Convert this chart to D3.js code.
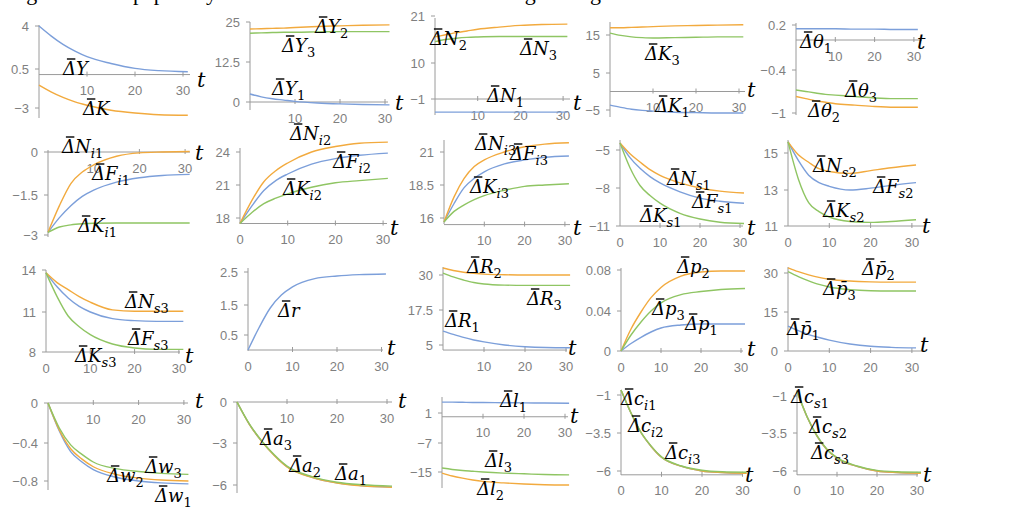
<!DOCTYPE html>
<html>
<head>
<meta charset="utf-8">
<script src="https://cdn.jsdelivr.net/npm/d3@7"></script>
<style>
  body { margin: 0; background: #fff; }
</style>
</head>
<body>
<div id="chart"></div>
<script>
// time samples (t) shared by every series
const T = [0, 2.5, 5, 7.5, 10, 15, 20, 25, 31];

// row 1
const dY = [4, 3.2, 2.5, 1.95, 1.5, 0.95, 0.55, 0.35, 0.25];
const dK = [-0.95, -1.55, -2.05, -2.45, -2.75, -3.2, -3.45, -3.6, -3.65];
const dY1 = [2.5, 1.6, 1.0, 0.6, 0.2, -0.3, -0.6, -0.8, -0.9];
const dY2 = [22.8, 22.9, 23.0, 23.1, 23.3, 23.6, 23.8, 24.0, 24.1];
const dY3 = [21.5, 21.6, 21.7, 21.8, 21.8, 21.9, 22.0, 22.0, 22.0];
const dN1 = [-5.0, -5.0, -5.0, -5.0, -5.0, -5.0, -5.0, -5.0, -5.0];
const dN2 = [16.1, 16.6, 17.1, 17.5, 17.9, 18.4, 18.8, 19.0, 19.1];
const dN3 = [15.0, 15.5, 15.8, 16.0, 16.1, 16.2, 16.2, 16.2, 16.2];
const dK1 = [-3.7, -4.3, -4.8, -5.1, -5.3, -5.6, -5.7, -5.8, -5.8];
const dK2 = [16.9, 16.9, 17.0, 17.1, 17.2, 17.4, 17.5, 17.6, 17.7];
const dK3 = [15.5, 14.9, 14.5, 14.3, 14.2, 14.3, 14.4, 14.5, 14.5];
const dTh1 = [0.15, 0.15, 0.15, 0.15, 0.15, 0.145, 0.145, 0.14, 0.14];
const dTh2 = [-0.77, -0.8, -0.83, -0.85, -0.87, -0.89, -0.91, -0.92, -0.92];
const dTh3 = [-0.68, -0.7, -0.72, -0.74, -0.75, -0.77, -0.79, -0.8, -0.8];

// row 2
const dNi1 = [-2.9, -1.9, -1.1, -0.7, -0.45, -0.15, -0.03, 0.0, 0.02];
const dFi1 = [-2.9, -2.35, -1.9, -1.55, -1.33, -1.05, -0.9, -0.82, -0.78];
const dKi1 = [-2.9, -2.7, -2.62, -2.58, -2.56, -2.55, -2.55, -2.55, -2.55];
const dNi2 = [17.5, 19.6, 21.3, 22.3, 23.0, 24.0, 24.5, 24.8, 24.9];
const dFi2 = [17.5, 19.1, 20.5, 21.4, 22.0, 22.9, 23.4, 23.7, 23.9];
const dKi2 = [17.5, 18.5, 19.3, 19.8, 20.2, 20.8, 21.2, 21.4, 21.6];
const dNi3 = [15.7, 17.6, 19.0, 19.9, 20.4, 21.0, 21.4, 21.6, 21.7];
const dFi3 = [15.7, 17.1, 18.3, 19.0, 19.5, 20.1, 20.4, 20.6, 20.7];
const dKi3 = [15.7, 16.5, 17.0, 17.4, 17.7, 18.1, 18.4, 18.5, 18.6];
const dNs1 = [-4.45, -5.3, -5.95, -6.55, -7.0, -7.6, -8.0, -8.25, -8.4];
const dFs1 = [-4.45, -5.6, -6.45, -7.1, -7.6, -8.3, -8.8, -9.05, -9.2];
const dKs1 = [-4.45, -6.4, -7.8, -8.6, -9.2, -10.0, -10.45, -10.7, -10.8];
const dNs2 = [15.6, 14.9, 14.5, 14.15, 14.0, 13.9, 14.05, 14.2, 14.35];
const dFs2 = [15.6, 14.6, 13.8, 13.4, 13.2, 13.0, 13.1, 13.25, 13.4];
const dKs2 = [15.6, 13.6, 12.3, 11.8, 11.5, 11.25, 11.2, 11.25, 11.35];

// row 3
const dNs3 = [13.8, 13.1, 12.6, 12.1, 11.7, 11.15, 11.05, 11.05, 11.05];
const dFs3 = [13.8, 12.8, 12.0, 11.4, 11.0, 10.5, 10.35, 10.3, 10.3];
const dKs3 = [13.8, 12.1, 10.7, 9.9, 9.3, 8.6, 8.3, 8.2, 8.2];
const dr = [0, 0.75, 1.4, 1.8, 2.05, 2.3, 2.38, 2.42, 2.44];
const dR1 = [10.0, 8.8, 7.7, 6.8, 6.1, 5.0, 4.4, 4.1, 4.0];
const dR2 = [32.5, 31.6, 31.0, 30.6, 30.3, 30.1, 30.0, 30.0, 30.0];
const dR3 = [30.7, 29.3, 28.2, 27.3, 26.8, 26.4, 26.3, 26.3, 26.3];
const dp1 = [0, 0.0075, 0.0137, 0.019, 0.023, 0.026, 0.027, 0.027, 0.027];
const dp2 = [0, 0.022, 0.039, 0.053, 0.063, 0.074, 0.078, 0.079, 0.079];
const dp3 = [0, 0.016, 0.029, 0.040, 0.048, 0.056, 0.059, 0.061, 0.062];
const dpb1 = [9.6, 7.8, 6.3, 5.2, 4.2, 2.7, 1.8, 1.4, 1.2];
const dpb2 = [32, 30.5, 29.3, 28.3, 27.6, 26.9, 26.6, 26.5, 26.5];
const dpb3 = [30.5, 28.6, 27.0, 25.6, 24.6, 23.6, 23.2, 23.1, 23.1];

// row 4
const dw1 = [0, -0.28, -0.49, -0.6, -0.68, -0.76, -0.8, -0.82, -0.83];
const dw2 = [0, -0.27, -0.46, -0.57, -0.65, -0.73, -0.77, -0.79, -0.8];
const dw3 = [0, -0.25, -0.42, -0.52, -0.6, -0.67, -0.7, -0.72, -0.73];
const da1 = [0, -1.65, -2.9, -3.9, -4.7, -5.45, -5.85, -6.05, -6.15];
const da2 = [0, -1.66, -2.91, -3.91, -4.71, -5.46, -5.86, -6.06, -6.16];
const da3 = [0, -1.62, -2.87, -3.86, -4.65, -5.4, -5.8, -5.98, -6.08];
const dl1 = [3.9, 3.9, 3.85, 3.8, 3.8, 3.75, 3.7, 3.65, 3.6];
const dl2 = [-15.3, -16.1, -16.7, -17.2, -17.6, -18.0, -18.3, -18.5, -18.6];
const dl3 = [-13.9, -14.3, -14.6, -14.8, -15.0, -15.3, -15.5, -15.7, -15.8];
const dci1 = [-0.67, -2.2, -3.5, -4.4, -5.1, -5.7, -6.0, -6.1, -6.15];
const dci2 = [-0.67, -2.2, -3.5, -4.4, -5.1, -5.7, -6.0, -6.1, -6.15];
const dci3 = [-0.67, -2.2, -3.48, -4.38, -5.07, -5.67, -5.95, -6.05, -6.08];
const dcs1 = [-0.7, -2.4, -3.7, -4.6, -5.15, -5.7, -6.0, -6.1, -6.15];
const dcs2 = [-0.7, -2.4, -3.7, -4.6, -5.15, -5.7, -6.0, -6.1, -6.15];
const dcs3 = [-0.7, -2.38, -3.68, -4.57, -5.12, -5.67, -5.96, -6.05, -6.08];

// y tick labels of each panel (top to bottom)
const yTickSets = [
    [4, 0.5, -3], [25, 12.5, 0], [21, 10, -1], [15, 5, -5], [0.2, -0.4, -1],
    [0, -1.5, -3], [24, 21, 18], [21, 18.5, 16], [-5, -8, -11], [15, 13, 11],
    [14, 11, 8], [2.5, 1.5, 0.5], [30, 17.5, 5], [0.08, 0.04, 0], [30, 15, 0],
    [0, -0.4, -0.8], [0, -3, -6], [1, -7, -15], [-1, -3.5, -6], [-1, -3.5, -6]
];
const xTicksA = [10, 20, 30];
const xTicksB = [0, 10, 20, 30];

const colors = { b: '#7c9fda', o: '#f2aa3e', g: '#8fc563' };

const tickFont = `'Liberation Sans Narrow', 'Arial Narrow', 'Liberation Sans', sans-serif`;
const mathFont = `'DejaVu Serif', serif`;
const axisColor = '#9a9a9a';

// layout of every panel: pixel positions of the y ticks, t origin, px per t unit ...
const panels = [
    { yPix: [26, 69, 108], axisAt: 0, x0: 39, xs: 4.8, xEnd: 190, yTop: 25, yBot: 118, xt: xTicksA,
      lines: [[dY, 'b'], [dK, 'o']], labels: [['Y', '', 63, 75], ['K', '', 83, 115]], t: [197, 87] },
    { yPix: [22, 62, 102], axisAt: 0, x0: 250, xs: 4.5, xEnd: 388, yTop: 22, yBot: 110, xt: xTicksA,
      lines: [[dY1, 'b'], [dY2, 'o'], [dY3, 'g']], labels: [['Y', '2', 315, 33], ['Y', '3', 282, 52], ['Y', '1', 272, 95]], t: [395, 110] },
    { yPix: [16, 63, 99], axisAt: -1, x0: 435, xs: 4.27, xEnd: 570, yTop: 18, yBot: 115, xt: xTicksA,
      lines: [[dN1, 'b'], [dN2, 'o'], [dN3, 'g']], labels: [['N', '2', 430, 45], ['N', '3', 520, 55], ['N', '1', 487, 102]], t: [573, 110] },
    { yPix: [35, 73, 110], axisAt: 0, x0: 610, xs: 4.3, xEnd: 745, yTop: 22, yBot: 117, xt: xTicksA,
      lines: [[dK1, 'b'], [dK2, 'o'], [dK3, 'g']], labels: [['K', '3', 645, 60], ['K', '1', 655, 112]], t: [747, 97] },
    { yPix: [25, 70, 113], axisAt: 0, x0: 796, xs: 3.93, xEnd: 922, yTop: 23, yBot: 115, xt: xTicksA,
      lines: [[dTh1, 'b'], [dTh2, 'o'], [dTh3, 'g']], labels: [['θ', '1', 800, 48], ['θ', '3', 845, 97], ['θ', '2', 808, 117]], t: [917, 49] },

    { yPix: [152, 195, 235], axisAt: 0, x0: 48, xs: 4.57, xEnd: 190, yTop: 150, yBot: 237, xt: xTicksA,
      lines: [[dFi1, 'b'], [dNi1, 'o'], [dKi1, 'g']], labels: [['N', 'i1', 62, 153], ['F', 'i1', 92, 180], ['K', 'i1', 78, 232]], t: [195, 160] },
    { yPix: [152, 185, 218], axisAt: 17.5, x0: 240, xs: 4.77, xEnd: 387, yTop: 148, yBot: 224, xt: xTicksB,
      lines: [[dFi2, 'b'], [dNi2, 'o'], [dKi2, 'g']], labels: [['N', 'i2', 290, 140], ['F', 'i2', 333, 168], ['K', 'i2', 283, 195]], t: [390, 235] },
    { yPix: [152, 185, 218], axisAt: 15.5, x0: 444, xs: 4.03, xEnd: 570, yTop: 140, yBot: 224, xt: xTicksA,
      lines: [[dFi3, 'b'], [dNi3, 'o'], [dKi3, 'g']], labels: [['N', 'i3', 475, 150], ['F', 'i3', 510, 160], ['K', 'i3', 470, 193]], t: [573, 235] },
    { yPix: [150, 188, 226], axisAt: -11, x0: 620, xs: 4.0, xEnd: 743, yTop: 140, yBot: 226, xt: xTicksB,
      lines: [[dFs1, 'b'], [dNs1, 'o'], [dKs1, 'g']], labels: [['N', 's1', 667, 185], ['F', 's1', 692, 208], ['K', 's1', 640, 222]], t: [747, 235] },
    { yPix: [153, 190, 226], axisAt: 11, x0: 788, xs: 4.13, xEnd: 925, yTop: 140, yBot: 226, xt: xTicksB,
      lines: [[dFs2, 'b'], [dNs2, 'o'], [dKs2, 'g']], labels: [['N', 's2', 813, 172], ['F', 's2', 873, 193], ['K', 's2', 823, 217]], t: [922, 233] },

    { yPix: [270, 312, 352], axisAt: 8, x0: 46, xs: 4.43, xEnd: 180, yTop: 270, yBot: 352, xt: xTicksB,
      lines: [[dFs3, 'b'], [dNs3, 'o'], [dKs3, 'g']], labels: [['N', 's3', 125, 308], ['F', 's3', 128, 345], ['K', 's3', 75, 362]], t: [185, 363] },
    { yPix: [272, 305, 335], axisAt: 0, x0: 248, xs: 4.45, xEnd: 383, yTop: 268, yBot: 351, xt: xTicksB,
      lines: [[dr, 'b']], labels: [['r', '', 278, 317]], t: [387, 355] },
    { yPix: [275, 310, 345], axisAt: 3.2, x0: 443, xs: 4.1, xEnd: 567, yTop: 267, yBot: 350, xt: xTicksA,
      lines: [[dR1, 'b'], [dR2, 'o'], [dR3, 'g']], labels: [['R', '2', 467, 273], ['R', '3', 527, 305], ['R', '1', 445, 327]], t: [568, 355] },
    { yPix: [270, 311, 351], axisAt: 0, x0: 621, xs: 4.0, xEnd: 743, yTop: 268, yBot: 351, xt: xTicksB,
      lines: [[dp1, 'b'], [dp2, 'o'], [dp3, 'g']], labels: [['p', '2', 677, 273], ['p', '3', 652, 315], ['p', '1', 685, 330]], t: [747, 356] },
    { yPix: [273, 312, 351], axisAt: 0, x0: 788, xs: 4.13, xEnd: 925, yTop: 267, yBot: 351, xt: xTicksB,
      lines: [[dpb1, 'b'], [dpb2, 'o'], [dpb3, 'g']], labels: [['p\u0304', '2', 862, 275], ['p\u0304', '3', 823, 295], ['p\u0304', '1', 787, 335]], t: [920, 352] },

    { yPix: [403, 443, 481], axisAt: 0, x0: 48, xs: 4.53, xEnd: 188, yTop: 403, yBot: 490, xt: xTicksA,
      lines: [[dw1, 'b'], [dw2, 'o'], [dw3, 'g']], labels: [['w', '2', 107, 482], ['w', '3', 145, 473], ['w', '1', 155, 502]], t: [195, 408] },
    { yPix: [402, 443, 485], axisAt: 0, x0: 237, xs: 5.0, xEnd: 392, yTop: 402, yBot: 493, xt: xTicksA,
      lines: [[da1, 'b'], [da2, 'o'], [da3, 'g']], labels: [['a', '3', 260, 445], ['a', '2', 289, 472], ['a', '1', 335, 480]], t: [398, 408] },
    { yPix: [413, 443, 472], axisAt: 0, x0: 442, xs: 4.1, xEnd: 568, yTop: 397, yBot: 488, xt: xTicksA,
      lines: [[dl1, 'b'], [dl2, 'o'], [dl3, 'g']], labels: [['l', '1', 500, 407], ['l', '3', 485, 467], ['l', '2', 477, 495]], t: [570, 423] },
    { yPix: [395, 433, 471], axisAt: -6.25, x0: 621, xs: 4.05, xEnd: 743, yTop: 390, yBot: 475, xt: xTicksB,
      lines: [[dci1, 'b'], [dci2, 'o'], [dci3, 'g']], labels: [['c', 'i1', 621, 405], ['c', 'i2', 628, 432], ['c', 'i3', 665, 459]], t: [745, 482] },
    { yPix: [396, 433, 471], axisAt: -6.25, x0: 797, xs: 4.0, xEnd: 918, yTop: 390, yBot: 475, xt: xTicksB,
      lines: [[dcs1, 'b'], [dcs2, 'o'], [dcs3, 'g']], labels: [['c', 's1', 791, 403], ['c', 's2', 809, 433], ['c', 's3', 811, 459]], t: [923, 482] }
];

const fmt = v => String(v).replace('-', '\u2212');

const svg = d3.select('#chart')
    .append('svg')
    .attr('width', 1009)
    .attr('height', 509);

// caption line of the page above, cut off by the crop (only descenders show)
const caption = svg.append('g')
    .style('font-family', `'Liberation Serif', serif`)
    .style('font-size', '22px');
[['Figure', 8], ['paper', 133], ['by', 195], ['using', 488], ['along', 552]].forEach(w => {
    caption.append('text').attr('x', w[1]).attr('y', 0).text(w[0]);
});

const addLabel = (g, main, sub, x, y) => {
    const txt = g.append('text')
        .attr('x', x)
        .attr('y', y)
        .style('font-family', mathFont)
        .style('font-style', 'italic')
        .style('font-size', '18px')
        .attr('fill', '#000');
    txt.append('tspan').text('\u0394' + main);
    if (sub) {
        let first = true;
        for (const ch of sub) {
            const isDigit = /[0-9]/.test(ch);
            txt.append('tspan')
                .attr('dy', first ? 5 : null)
                .style('font-size', '13px')
                .style('font-style', isDigit ? 'normal' : 'italic')
                .text(ch);
            first = false;
        }
    }
    // bar over the Delta
    const box = txt.node().getExtentOfChar(0);
    g.append('line')
        .attr('x1', box.x + box.width * 0.3)
        .attr('x2', box.x + box.width * 0.95)
        .attr('y1', y - 16)
        .attr('y2', y - 16)
        .attr('stroke', '#000')
        .attr('stroke-width', 1.4);
};

panels.forEach((p, i) => {
    const ticks = yTickSets[i];
    const x = d3.scaleLinear().domain([0, 30]).range([p.x0, p.x0 + 30 * p.xs]);
    const y = d3.scaleLinear().domain(ticks).range(p.yPix);
    const axisY = y(p.axisAt);

    const g = svg.append('g').attr('class', 'panel');

    // y axis
    g.append('line')
        .attr('x1', p.x0).attr('x2', p.x0)
        .attr('y1', p.yTop).attr('y2', p.yBot)
        .attr('stroke', axisColor).attr('stroke-width', 1);
    g.selectAll('.ytick')
        .data(ticks)
        .join('line')
        .attr('class', 'ytick')
        .attr('x1', p.x0 - 4).attr('x2', p.x0)
        .attr('y1', d => y(d)).attr('y2', d => y(d))
        .attr('stroke', axisColor);
    g.selectAll('.ylab')
        .data(ticks)
        .join('text')
        .attr('class', 'ylab')
        .attr('x', p.x0 - 10)
        .attr('y', d => y(d))
        .attr('dy', '0.35em')
        .attr('text-anchor', 'end')
        .style('font-family', tickFont)
        .style('font-size', '13px')
        .attr('fill', '#7f7f7f')
        .text(fmt);

    // x axis
    g.append('line')
        .attr('x1', p.x0).attr('x2', p.xEnd)
        .attr('y1', axisY).attr('y2', axisY)
        .attr('stroke', axisColor).attr('stroke-width', 1);
    g.selectAll('.xtick')
        .data(xTicksA)
        .join('line')
        .attr('class', 'xtick')
        .attr('x1', d => x(d)).attr('x2', d => x(d))
        .attr('y1', axisY - 3).attr('y2', axisY + 2)
        .attr('stroke', axisColor);
    g.selectAll('.xlab')
        .data(p.xt)
        .join('text')
        .attr('class', 'xlab')
        .attr('x', d => x(d))
        .attr('y', axisY + 16)
        .attr('dy', '0.35em')
        .attr('text-anchor', 'middle')
        .style('font-family', tickFont)
        .style('font-size', '13px')
        .attr('fill', '#7f7f7f')
        .text(fmt);

    g.append('text')
        .attr('x', p.t[0])
        .attr('y', p.t[1])
        .style('font-family', mathFont)
        .style('font-style', 'italic')
        .style('font-size', '21px')
        .attr('fill', '#000')
        .text('t');

    // series
    const line = d3.line()
        .x((d, k) => x(T[k]))
        .y(d => y(d))
        .curve(d3.curveMonotoneX);
    p.lines.forEach(s => {
        g.append('path')
            .attr('d', line(s[0]))
            .attr('fill', 'none')
            .attr('stroke', colors[s[1]])
            .attr('stroke-width', 1.4);
    });

    p.labels.forEach(l => addLabel(g, l[0], l[1], l[2], l[3]));
});
</script>
</body>
</html>
